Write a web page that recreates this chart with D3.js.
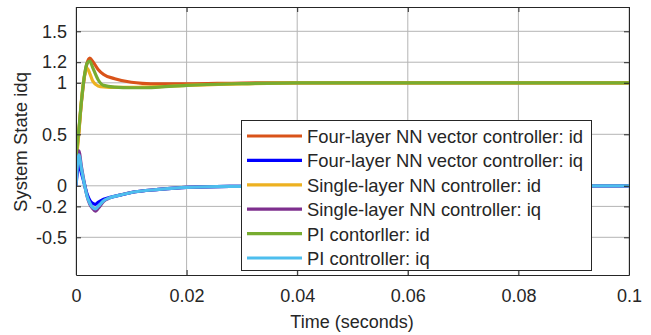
<!DOCTYPE html>
<html>
<head>
<meta charset="utf-8">
<script src="https://cdn.jsdelivr.net/npm/d3@7"></script>
<style>
  body { margin: 0; background: #fff; }
  text { font-family: "Liberation Sans", Arial, sans-serif; fill: #262626; }
</style>
</head>
<body>
<div id="container"></div>
<script>
const width = 651;
const height = 335;
const plotLeft = 76, plotRight = 629, plotTop = 7, plotBottom = 275;

// time samples (seconds)
const timeId = [0, 0.0005, 0.001, 0.0015, 0.002, 0.0025, 0.003, 0.004, 0.005, 0.007, 0.01, 0.012, 0.015, 0.02, 0.03, 0.04, 0.1];
const fourLayerId = [0.25, 0.52, 0.82, 1.05, 1.19, 1.24, 1.21, 1.13, 1.08, 1.04, 1.005, 0.995, 0.99, 0.99, 0.998, 1.0, 1.0];
const singleLayerId = [0.22, 0.5, 0.84, 1.06, 1.14, 1.09, 1.02, 0.97, 0.96, 0.955, 0.955, 0.958, 0.962, 0.975, 0.99, 1.0, 1.0];
const piId = [0.28, 0.54, 0.83, 1.06, 1.19, 1.21, 1.15, 1.03, 0.975, 0.958, 0.952, 0.952, 0.958, 0.975, 0.992, 1.0, 1.0];

const timeIq = [0, 0.0005, 0.001, 0.0015, 0.002, 0.0025, 0.003, 0.0035, 0.004, 0.005, 0.006, 0.008, 0.01, 0.015, 0.02, 0.03, 0.04, 0.1];
const fourLayerIq = [0, 0.2, 0.12, 0.02, -0.08, -0.14, -0.17, -0.18, -0.16, -0.13, -0.115, -0.09, -0.065, -0.035, -0.015, -0.005, 0, 0];
const singleLayerIq = [0, 0.34, 0.18, 0.03, -0.1, -0.18, -0.22, -0.245, -0.22, -0.15, -0.12, -0.09, -0.065, -0.035, -0.015, -0.005, 0, 0];
const piIq = [0, 0.3, 0.16, 0.02, -0.1, -0.17, -0.21, -0.225, -0.2, -0.145, -0.118, -0.09, -0.065, -0.035, -0.015, -0.005, 0, 0];

const xTicks = [0, 0.02, 0.04, 0.06, 0.08, 0.1];
const yTicks = [-0.5, -0.2, 0, 0.5, 1, 1.2, 1.5];

const seriesNames = [
  "Four-layer NN vector controller: id",
  "Four-layer NN vector controller: iq",
  "Single-layer NN controller: id",
  "Single-layer NN controller: iq",
  "PI contorller: id",
  "PI controller: iq"
];
const seriesColors = ["#D95319", "#0000FF", "#EDB120", "#7E2F8E", "#77AC30", "#4DBEEE"];
const seriesData = [
  [timeId, fourLayerId],
  [timeIq, fourLayerIq],
  [timeId, singleLayerId],
  [timeIq, singleLayerIq],
  [timeId, piId],
  [timeIq, piIq]
];

const svg = d3.select("#container").append("svg").attr("width", width).attr("height", height);

const xScale = d3.scaleLinear().domain([0, 0.1]).range([plotLeft, plotRight]);
const yScale = d3.scaleLinear().domain([-0.866, 1.736]).range([plotBottom, plotTop]);

// grid
svg.append("g").selectAll("line").data(xTicks).enter().append("line")
  .attr("x1", d => xScale(d)).attr("x2", d => xScale(d))
  .attr("y1", plotTop).attr("y2", plotBottom)
  .attr("stroke", "#b4b4b4").attr("stroke-width", 1);
svg.append("g").selectAll("line").data(yTicks).enter().append("line")
  .attr("x1", plotLeft).attr("x2", plotRight)
  .attr("y1", d => yScale(d)).attr("y2", d => yScale(d))
  .attr("stroke", "#b4b4b4").attr("stroke-width", 1);

// lines
svg.append("clipPath").attr("id", "plotclip").append("rect")
  .attr("x", plotLeft).attr("y", plotTop).attr("width", plotRight - plotLeft).attr("height", plotBottom - plotTop);
const line = d3.line().x(d => xScale(d[0])).y(d => yScale(d[1])).curve(d3.curveMonotoneX);
seriesData.forEach((s, i) => {
  const pts = s[0].map((t, j) => [t, s[1][j]]);
  svg.append("path").datum(pts)
    .attr("d", line)
    .attr("fill", "none")
    .attr("stroke", seriesColors[i])
    .attr("stroke-width", 3.2)
    .attr("stroke-linejoin", "round")
    .attr("clip-path", "url(#plotclip)");
});

// axes
const xAxis = svg.append("g").attr("transform", `translate(0,${plotBottom})`)
  .call(d3.axisBottom(xScale).tickValues(xTicks).tickFormat(d => d === 0 ? "0" : String(+d.toFixed(2))).tickSizeInner(-5).tickSizeOuter(0).tickPadding(14));
const yAxis = svg.append("g").attr("transform", `translate(${plotLeft},0)`)
  .call(d3.axisLeft(yScale).tickValues(yTicks).tickFormat(d => String(d)).tickSizeInner(-5).tickSizeOuter(0).tickPadding(9));
const xAxisTop = svg.append("g").attr("transform", `translate(0,${plotTop})`)
  .call(d3.axisTop(xScale).tickValues(xTicks).tickFormat("").tickSizeInner(-5).tickSizeOuter(0));
const yAxisRight = svg.append("g").attr("transform", `translate(${plotRight},0)`)
  .call(d3.axisRight(yScale).tickValues(yTicks).tickFormat("").tickSizeInner(-5).tickSizeOuter(0));
[xAxis, yAxis, xAxisTop, yAxisRight].forEach(g => {
  g.selectAll("path").attr("stroke", "#262626");
  g.selectAll("line").attr("stroke", "#262626");
  g.selectAll("text").attr("font-size", 18).attr("fill", "#262626").attr("font-family", "Liberation Sans, Arial, sans-serif");
});

svg.append("text").attr("x", 352).attr("y", 328)
  .attr("text-anchor", "middle").attr("font-size", 18).text("Time (seconds)");
svg.append("text").attr("transform", `translate(27,142) rotate(-90)`)
  .attr("text-anchor", "middle").attr("font-size", 18.5).text("System State idq");

// legend
const legend = svg.append("g");
legend.append("rect").attr("x", 241.5).attr("y", 120.5).attr("width", 350).attr("height", 150)
  .attr("fill", "#fff").attr("stroke", "#262626").attr("stroke-width", 1);
const items = legend.selectAll(".item").data(seriesNames).enter().append("g")
  .attr("class", "item")
  .attr("transform", (d, i) => `translate(0,${136 + i * 24.4})`);
items.append("line").attr("x1", 247).attr("x2", 302).attr("y1", 0).attr("y2", 0)
  .attr("stroke", (d, i) => seriesColors[i]).attr("stroke-width", 3.2);
items.append("text").attr("x", 307).attr("y", 7).attr("font-size", 18.4).attr("fill", "#000").text(d => d);
</script>
</body>
</html>
